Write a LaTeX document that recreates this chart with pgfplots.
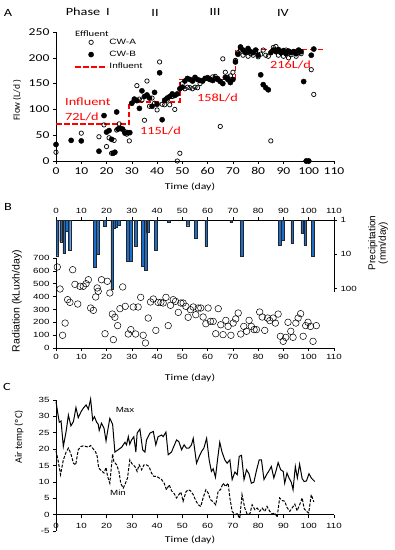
\documentclass[border=0pt]{standalone}
\usepackage{fontspec}
\setmainfont[FakeStretch=1.3]{Carlito}
\newfontfamily\calR{Carlito}
\newfontfamily\arS[FakeStretch=1.3]{Liberation Sans}
\newfontfamily\arR{Liberation Sans}
\usepackage{pgfplots}
\pgfplotsset{compat=1.18}
\definecolor{barblue}{RGB}{28,110,200}
\definecolor{infred}{RGB}{255,0,0}
\begin{document}
\begin{tikzpicture}[x=1pt,y=1pt]
\path[use as bounding box] (0,0) rectangle (395,-550);

% ---------------- Panel A ----------------
\begin{axis}[
 scale only axis, width=278pt, height=129pt,
 at={(56pt,-161pt)}, anchor=south west,
 xmin=0,xmax=110,ymin=0,ymax=250,
 axis x line*=bottom, axis y line*=left,
 axis line style={line width=0.8pt},
 xtick={0,10,...,110}, ytick={0,50,...,250},
 xticklabels={0,10,20,30,40,50,60,70,80,90,100,110},
 yticklabels={0,50,100,150,200,250},
 tick align=outside, major tick length=3pt, tick style={black, line width=0.6pt},
 ticklabel style={font=\fontsize{10.5}{11}\selectfont},
 clip=false,
 legend style={at={(axis description cs:0.065,0.96)}, anchor=north west, draw=none, fill=none,
   font=\arS\fontsize{7.7}{8.5}\selectfont, inner sep=0pt, row sep=2.4pt, nodes={inner sep=1.5pt}},
 legend cell align=left,
 legend image code/.code={\draw[mark repeat=2,mark phase=2,#1] plot coordinates {(0pt,0pt) (16pt,0pt) (32pt,0pt)};},
]
\addplot[only marks, mark=o, mark size=2.2pt, mark options={line width=0.7pt, fill=white, draw=black}] table {
0 17
10 54
17 47
19 70
20 28
21 45
22 15
23 40
24 60
25 72
26 62
27 58
28 52
29 39
30 112
31 118
32 146
33 120
34 118
35 79
36 155
37 106
38 122
39 112
40 99
41 192
42 110
43 109
44 118
45 109
46 125
47 100
48 0
49 15
50 150
51 140
52 143
53 142
54 140
55 143
56 142
57 150
58 155
59 160
60 162
61 158
62 163
63 164
64 160
65 67
66 198
67 172
68 162
69 165
70 172
71 195
72 210
73 215
74 205
75 212
76 203
77 208
78 205
79 212
80 202
81 207
82 215
83 205
84 203
85 39
86 220
87 222
88 205
89 210
90 203
91 215
92 200
93 206
94 212
95 203
96 210
97 208
99 0
100 0
101 177
102 129
};
\addlegendentry{CW-A}
\addplot[only marks, mark=*, mark size=2.6pt, mark options={draw=black, fill=black}] table {
0 32
6 40
10 39
17 19
19 88
20 56
21 59
22 42
22.6 15
23.3 17
24 95
24.5 62
25.3 63
26.3 62
27.3 54
28.3 55
29.2 55
30 112
31 120
32 117
33 102
34 136
35 125
36 128
37 122
38 106
39 133
40 110
41 171
42 80
43 118
44 122
45 125
46 130
47 127
48 130
49 140
50 143
51 155
52 160
53 158
54 155
55 162
56 158
57 156
58 155
59 160
60 160
61 158
62 156
63 160
64 158
65 154
66 150
67 162
68 158
69 152
70 158
71 192
72 207
73 221
74 215
75 210
76 218
77 212
78 210
79 215
80 205
81 167
82 148
83 142
84 138
85 210
86 215
87 212
88 216
89 210
90 214
91 208
92 213
93 210
94 212
95 208
96 215
97 212
98 154
99 0
100 0
101 205
102 217
};
\addlegendentry{CW-B}
\addplot[draw=infred, color=infred, mark=none, line width=1.7pt, dash pattern=on 5.5pt off 2.5pt] coordinates {(0,72)(29,72)(29,115)(49,115)(49,158)(71,158)(71,216)(106,216)};
\addlegendentry{Influent}
\end{axis}

% ---------------- Panel B: precipitation ----------------
\begin{axis}[
 scale only axis, width=278pt, height=72pt,
 at={(56pt,-220pt)}, anchor=north west,
 xmin=0,xmax=110, ymode=log, ymin=1, ymax=126, y dir=reverse,
 axis x line*=top, axis y line*=right,
 axis line style={line width=0.8pt},
 xtick={0,10,...,110}, ytick={1,10,100}, yticklabels={1,10,100},
 xticklabels={0,10,20,30,40,50,60,70,80,90,100,110},
 yminorticks=false,
 tick align=outside, major tick length=3pt, tick style={black, line width=0.6pt},
 ticklabel style={font=\arS\fontsize{7.5}{8.5}\selectfont},
]
\addplot[ybar, bar width=2.7pt, fill=barblue, draw=black!85, line width=0.4pt] table {
0.5 11
2.0 4.3
3.3 9.4
4.2 2.1
5.3 7.8
15.2 24.6
16.5 10
19.4 1.5
22.2 105
23 1.75
23.8 1.6
24.7 1.4
28.4 16
29.5 15.5
31.5 6
34.2 23
35.4 28.6
36.3 2.3
39.5 7.5
44.5 1.17
52.2 1.47
55.3 3.4
59.4 6.0
69.3 1.17
73.5 11.7
88.4 5.6
89.6 3.8
93.5 4.8
97.4 2.4
98.6 5.4
101.6 11.7
};
\end{axis}

% ---------------- Panel B: radiation ----------------
\begin{axis}[
 scale only axis, width=278pt, height=90pt,
 at={(56pt,-348pt)}, anchor=south west,
 xmin=0,xmax=110, ymin=0, ymax=700,
 axis x line*=bottom, axis y line*=left,
 axis line style={line width=0.8pt},
 xtick={0,10,...,110}, ytick={0,100,...,700},
 xticklabels={0,10,20,30,40,50,60,70,80,90,100,110},
 yticklabels={0,100,200,300,400,500,600,700},
 tick align=outside, major tick length=3pt, tick style={black, line width=0.6pt},
 ticklabel style={font=\arS\fontsize{7.5}{8.5}\selectfont},
 clip=false,
]
\addplot[only marks, mark=o, mark size=3.3pt, mark options={line width=0.5pt, draw=black, fill=white}] table {
0.5 630
1.6 459
2.6 99
3.6 194
4.6 376
5.5 355
6.6 609
7.5 495
8.6 342
9.5 480
10.8 480
11.9 500
12.8 531
13.7 311
14.8 293
15.7 397
16.3 467
16.7 441
18 531
19.4 111
20.3 519
21.3 428
22.3 264
22.7 65
23.3 239
24.4 174
25.3 306
26.4 475
27.4 324
28.6 109
29.6 143
30.6 319
31.5 109
32.5 319
33.5 394
34.5 99
35.4 39
36.5 233
37.4 358
38.5 381
39.5 137
40.4 355
41.5 355
42.4 350
43.5 394
44.4 174
45.3 332
46.4 376
47.3 363
48.4 277
49.4 350
50.3 350
51.4 324
52.3 239
53.2 298
54.3 319
55.3 259
56.3 311
57.3 311
58.2 241
59.3 189
60.2 311
61.1 207
62.2 207
63.2 111
64.2 306
65.2 181
66.1 104
67.2 215
68.1 168
69.2 99
70.1 194
71.1 226
72.1 272
73.1 109
74.3 168
75.4 130
76.4 215
77.3 168
78.4 143
79.3 143
80.6 280
81.6 241
82.6 137
83.7 233
84.6 213
85.9 233
86.8 194
87.9 264
88.8 91
89.9 52
90.9 83
91.8 200
92.9 130
93.8 83
94.9 194
95.8 233
96.8 267
97.8 91
98.8 174
99.7 200
100.7 168
101.7 52
103 174
};
\end{axis}

% ---------------- Panel C ----------------
\begin{axis}[
 scale only axis, width=278pt, height=131pt,
 at={(56pt,-531pt)}, anchor=south west,
 xmin=0,xmax=110, ymin=-5, ymax=35,
 axis x line*=middle, axis y line*=left,
 axis line style={line width=0.8pt},
 hide obscured x ticks=false, hide obscured y ticks=false,
 xtick={0,10,...,110}, ytick={-5,0,5,10,15,20,25,30,35},
 xticklabels={0,10,20,30,40,50,60,70,80,90,100,110},
 yticklabels={-5,0,5,10,15,20,25,30,35},
 tick align=outside, major tick length=3pt, tick style={black, line width=0.6pt},
 ticklabel style={font=\arS\fontsize{7.5}{8.5}\selectfont},
 xticklabel style={yshift=-2pt},
 clip=false,
]
\addplot[black, line width=1pt, mark=none] table {
0 34.5
0.7 31
1.3 28.2
2 28.6
2.9 20.8
4 25.4
4.9 30.4
5.9 27.1
6.9 28.4
7.9 32.7
8.8 29.6
9.9 31.4
10.8 32.5
11.9 33.5
12.8 32.2
13.7 35.3
14.5 28.9
15.2 29.9
16.1 28.2
16.7 27.6
17.1 25.7
18 27.9
19 26.4
19.8 22.5
20.4 25.4
21.3 29.4
22.4 27.6
23.3 19.1
24.6 19.8
26 20.6
27.3 22.1
27.9 21.3
28.6 23.8
29.2 21.5
29.9 22.8
30.8 23.8
31.6 19.1
32.1 24.9
33.2 26.1
34.3 19.8
35.2 19.1
35.8 22.8
37.2 24.9
38.5 25.4
39.5 21.3
40.4 23.8
41.8 24.3
42.4 23.8
43.5 25.2
44.4 18.3
45.7 19.1
46.6 20.8
47.7 22.8
48.6 22.3
49.7 19.8
50.7 21.3
51.6 20.3
52.6 20.3
53.6 21.3
54.3 23.3
55.6 15.7
56.7 17.8
57.6 19.3
58.5 20.3
59.6 23.3
60.6 16.7
61.5 13.2
62.2 14
63.1 11.4
63.9 16.7
64.8 22.1
65.7 19.1
66.8 16.7
67.7 15.7
68.8 16.7
69.7 10.7
70.8 13
71.7 12.2
72.5 17.8
73.4 18.1
74.4 10.7
75.4 13.7
76.4 12.4
77.3 9.6
78.3 9.9
79.3 13.4
80.4 16.7
81.3 16.7
82.3 10.7
83.3 12.2
84.3 13.4
85.2 14.7
86.2 11.2
87 13.2
87.9 15.9
88.9 13.7
89.9 13.2
90.5 9.6
91.4 12.7
92.2 11.2
93.1 9.9
93.8 7.6
94.7 14.7
95.5 11.2
96.4 15.4
97.4 11
98.2 10.1
99.1 10.3
100.1 12.5
101 11.2
102.4 10.1
};
\addplot[black, line width=1pt, mark=none, dash pattern=on 3pt off 1.5pt] table {
0 19.5
0.9 16.2
1.8 12.2
2.9 16.7
4 19.1
4.9 20.3
5.8 18.8
6.9 15.7
7.8 15.2
8.8 19.8
9.9 20.8
10.8 21
11.9 20.8
12.8 20.6
13.7 21.1
14.8 20
15.7 19.1
16.3 17.8
16.9 14.2
18 13.4
19 12.7
19.8 14.4
20.4 11.7
21.3 9.6
22.4 18.5
22.9 16.2
24 15.2
24.9 13.2
25.6 9.6
26.6 8.1
27.5 9.6
28.3 11.2
29.2 16.7
30.2 15.4
31.2 14.7
32.1 13.2
32.9 15.2
33.9 13.7
34.8 15.2
35.8 15.2
36.8 14.7
37.8 12.7
38.7 11.7
39.8 11.7
40.8 11.2
41.8 10.7
42.8 9.6
43.7 7.6
44.8 9.1
45.7 7.3
46.6 6.6
47.7 5.1
48.6 6.1
49.4 6.9
50.3 4.1
51.4 6.9
52.3 7.6
53.2 7.3
54.3 6.1
55.3 4.3
56.3 3
57.3 2.5
58.2 5.1
59.3 7.6
60.2 6.6
61.1 4.6
62.2 3.9
63.2 3
64.2 7.3
65.1 7.6
66.1 9.6
67.1 8.6
68.1 9.6
68.8 5.1
69.7 1
70.8 0
71.7 0.3
72.7 -1.2
73.6 6.1
74.7 2
75.6 0.2
76.7 0.2
77.6 3
78.7 1.5
79.6 2
80.6 1
81.6 2
82.6 1
83.5 2.5
84.6 1
85.6 0.2
86.6 0.5
87.5 -0.8
88.5 5.1
89.5 4.3
90.5 4.1
91.4 2.2
92.5 1
93.4 2
94.5 3.2
95.4 1.2
96.4 3
97.4 5.1
98.2 1.8
99.1 1
100 0.5
101 6.1
102 3.9
};
\end{axis}

% ---------------- Text ----------------
\node[anchor=center, font=\fontsize{11}{12}\selectfont] at (8,-13) {A};
\node[anchor=center, font=\fontsize{11}{12}\selectfont] at (8,-207) {B};
\node[anchor=center, font=\fontsize{11}{12}\selectfont] at (7,-387) {C};
\node[anchor=center, font=\fontsize{11}{12}\selectfont] at (83,-12) {Phase};
\node[anchor=center, font=\fontsize{11}{12}\selectfont] at (108,-12) {I};
\node[anchor=center, font=\fontsize{11}{12}\selectfont] at (155,-13) {II};
\node[anchor=center, font=\fontsize{11}{12}\selectfont] at (215,-12) {III};
\node[anchor=center, font=\fontsize{11}{12}\selectfont] at (283,-13) {IV};
\node[anchor=west, inner sep=0pt, font=\fontsize{8.2}{9}\selectfont] at (75,-34) {Effluent};
\node[anchor=west, inner sep=0pt, text=infred, font=\fontsize{11}{12}\selectfont] at (65,-102) {Influent};
\node[anchor=west, inner sep=0pt, text=infred, font=\fontsize{11}{12}\selectfont] at (65,-117) {72L/d};
\node[anchor=west, inner sep=0pt, text=infred, font=\fontsize{11}{12}\selectfont] at (140,-131) {115L/d};
\node[anchor=west, inner sep=0pt, text=infred, font=\fontsize{11}{12}\selectfont] at (197,-98) {158L/d};
\node[anchor=west, inner sep=0pt, text=infred, font=\fontsize{11}{12}\selectfont] at (270,-65) {216L/d};
\node[anchor=center, font=\fontsize{9}{10}\selectfont] at (190,-187) {Time (day)};
\node[anchor=center, font=\fontsize{9}{10}\selectfont] at (190,-378) {Time (day)};
\node[anchor=center, font=\fontsize{9}{10}\selectfont] at (190,-540) {Time (day)};
\node[anchor=center, rotate=90, font=\calR\fontsize{9.5}{10}\selectfont] at (17,-100) {Flow (L/d )};
\node[anchor=center, rotate=90, font=\arR\fontsize{10.5}{11}\selectfont] at (17,-301) {Radiation (kLuxh/day)};
\node[anchor=center, rotate=90, align=center, font=\arR\fontsize{10}{10.5}\selectfont] at (378,-243) {Precipitation\\(mm/day)};
\node[anchor=center, rotate=90, font=\calR\fontsize{10}{11}\selectfont] at (19,-437) {Air temp (ºC)};
\node[anchor=center, font=\arS\fontsize{7.5}{8.5}\selectfont] at (125,-410) {Max};
\node[anchor=center, font=\arS\fontsize{7.5}{8.5}\selectfont] at (118,-493) {Min};
\end{tikzpicture}
\end{document}
